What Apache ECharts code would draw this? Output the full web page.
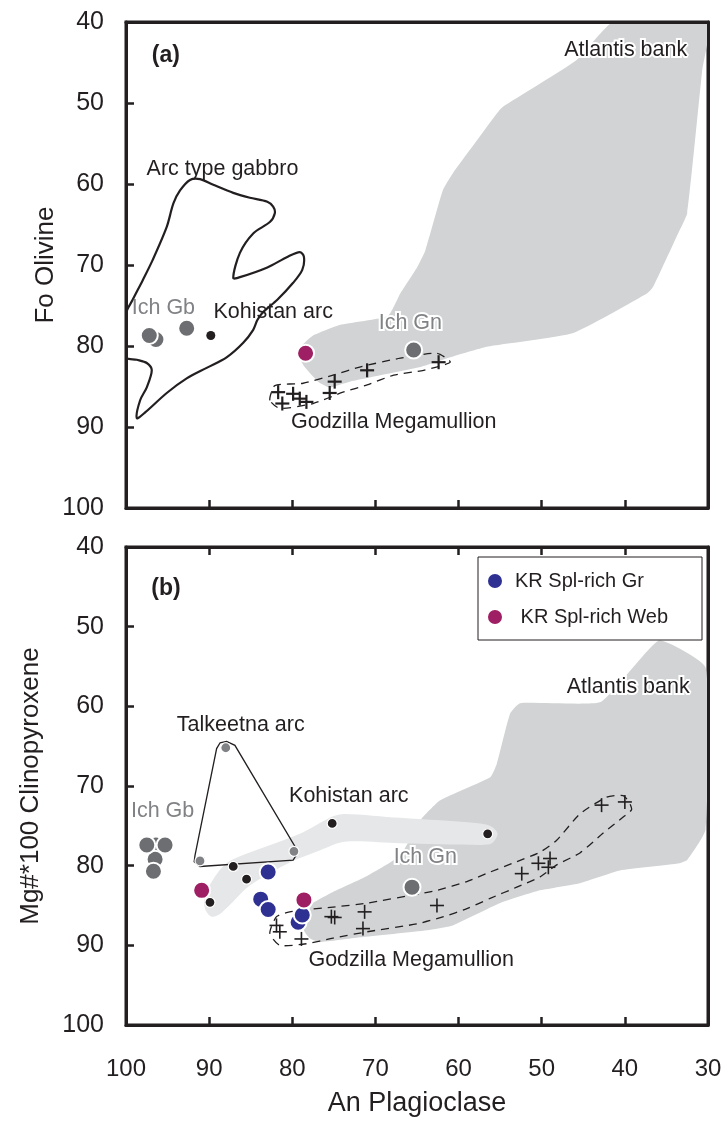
<!DOCTYPE html>
<html>
<head>
<meta charset="utf-8">
<script src="https://cdn.jsdelivr.net/npm/echarts@6/dist/echarts.min.js"></script>
<style>
  html, body { margin: 0; padding: 0; background: #fff; }
  #chart { width: 725px; height: 1121px; }
</style>
</head>
<body>
<div id="chart"></div>
<script>
// ---------- Panel (a): An Plagioclase vs Fo Olivine ----------
const atlantisA = [[41.4,40],[30.0,40],[30.7,46.0],[32.5,63.6],[33.6,66.1],[36.6,72.7],[37.3,73.5],[46.2,78.4],[56.6,80.1],[61.0,81.4],[64.6,82.6],[73.1,84.4],[75.5,85.1],[76.9,84.4],[78.5,82.6],[79.3,81.1],[78.8,79.9],[77.5,78.7],[74.3,77.4],[68.5,76.3],[67.0,73.5],[65.0,70.3],[64.0,68.2],[61.9,60.8],[60.7,58.7],[55.4,51.3],[54.7,50.5],[45.8,44.7]];
const arcGabbroA = [[92.3,59.5],[91.1,59.4],[89.5,60.1],[87.1,61.1],[85.1,61.7],[83.0,62.2],[82.3,62.8],[82.1,63.6],[82.7,64.7],[84.7,66.1],[86.3,68.5],[87.1,71.6],[86.3,71.5],[83.0,70.3],[80.6,69.0],[79.1,68.4],[78.6,69.0],[78.8,70.6],[79.9,72.2],[81.8,74.3],[83.5,75.8],[84.2,76.8],[84.7,78.0],[85.9,79.6],[87.9,81.4],[90.3,82.7],[92.7,84.0],[95.1,85.8],[97.7,88.2],[98.7,88.9],[98.3,86.7],[97.5,85.1],[96.9,83.0],[97.5,82.1],[98.7,81.7],[100,81.4],[100,76.0],[99.2,74.3],[98.0,71.9],[96.8,69.4],[95.1,65.3],[94.3,62.4],[93.5,60.8]];
const godzillaEnvA = [[82.7,86.7],[82.1,84.9],[78.7,84.6],[75.1,83.6],[71.9,82.6],[67.0,81.5],[62.6,80.9],[61.0,82.0],[64.2,83.0],[67.8,83.6],[71.0,84.8],[73.9,85.7],[77.5,87.1],[81.5,87.7]];
const godzillaA = [[81.7,85.7],[81.2,87.1],[79.9,85.9],[79.1,86.5],[78.3,86.9],[75.5,85.8],[74.9,84.4],[71.0,83.0],[62.4,82.0]];
const ichA = [[96.4,79.2],[97.2,78.7],[92.7,77.8],[65.4,80.5]];
const kohistanA = [[89.8,78.7]];
const webA = [[78.4,80.9]];
const labelsA = [
  ['(a)', 95.2, 44.1],
  ['Atlantis bank', 39.9, 43.5],
  ['Arc type gabbro', 88.4, 58.1],
  ['Ich Gb', 95.5, 75.3],
  ['Kohistan arc', 82.3, 75.8],
  ['Ich Gn', 65.8, 77.2],
  ['Godzilla Megamullion', 67.8, 89.4]
];

// ---------- Panel (b): An Plagioclase vs Mg#*100 Clinopyroxene ----------
const atlantisB = [[35.8,51.7],[30.3,55.1],[30.3,75.5],[32.5,79.3],[33.4,79.7],[40.6,80.6],[45.4,82.2],[50.2,83.1],[55.0,84.7],[60.7,87.5],[63.8,88.1],[71.9,89.0],[76.7,89.6],[77.9,89.1],[78.6,88.1],[78.3,86.2],[77.5,84.7],[75.1,83.3],[71.0,81.3],[67.0,78.7],[64.6,74.3],[62.2,71.8],[56.2,68.9],[55.4,67.2],[53.8,60.9],[52.6,59.6],[43.0,59.5],[39.0,55.1]];
const kohistanBandB = [[90.5,83.7],[88.9,80.8],[87.3,79.3],[79.1,76.0],[75.1,73.8],[73.7,73.5],[67.0,74.0],[57.4,74.7],[56.0,75.1],[55.3,76.0],[56.0,77.2],[57.4,77.4],[67.0,77.2],[73.7,77.0],[76.7,78.1],[80.3,79.6],[85.1,82.5],[88.5,85.9],[89.7,86.4],[90.5,85.4]];
const talkeetnaOutlineB = [[88.7,64.6],[87.9,64.4],[86.9,64.9],[79.5,77.9],[79.4,78.5],[79.9,79.3],[91.1,80.1],[91.8,79.5],[91.7,78.7],[89.1,65.3]];
const godzillaEnvB = [[79.1,85.6],[75.1,85.2],[71.0,84.7],[64.6,83.5],[62.6,83.1],[59.0,82.0],[56.2,80.8],[53.0,79.5],[50.2,78.3],[48.2,76.8],[45.4,73.5],[42.2,71.4],[40.2,71.2],[39.4,72.2],[39.2,73.0],[40.2,73.9],[42.6,75.9],[45.4,78.4],[48.2,79.9],[50.2,81.4],[53.0,82.7],[56.2,84.1],[59.0,85.4],[61.8,86.4],[65.0,87.3],[71.0,88.3],[75.1,89.1],[78.3,89.8],[81.5,90.0],[82.7,88.5],[81.9,86.4],[80.3,85.8]];
const godzillaB = [[81.5,88.3],[81.9,87.5],[78.9,89.2],[75.3,86.4],[74.9,86.5],[71.3,85.8],[71.5,87.9],[62.6,85.0],[52.4,81.0],[50.4,79.7],[49.0,79.1],[49.2,80.2],[42.8,72.4],[40.0,72.0]];
const ichB = [[96.4,77.4],[96.5,79.2],[97.5,77.4],[95.3,77.4],[96.7,80.7],[65.6,82.7]];
const talkeetnaB = [[88.0,65.2],[91.1,79.4],[79.8,78.2]];
const kohistanB = [[87.1,80.1],[85.5,81.7],[89.9,84.6],[75.2,74.7],[56.5,76.0]];
const grB = [[82.9,80.8],[83.8,84.2],[82.9,85.5],[79.3,87.1],[78.8,86.2]];
const webB = [[90.9,83.1],[78.6,84.3]];
const labelsB = [
  ['(b)', 95.2, 45.2],
  ['Atlantis bank', 39.6, 57.6],
  ['Talkeetna arc', 86.2, 62.4],
  ['Kohistan arc', 73.2, 71.3],
  ['Ich Gb', 95.6, 73.2],
  ['Ich Gn', 64.0, 78.9],
  ['Godzilla Megamullion', 65.7, 91.8]
];

const xTicks = [100, 90, 80, 70, 60, 50, 40, 30];
const yTicks = [40, 50, 60, 70, 80, 90, 100];

// ---------- styling ----------
const INK = '#231f20';
const GREY_TXT = '#808285';
const FONT = '"Liberation Sans", Arial, sans-serif';
const HALO = new Set(['Atlantis bank', 'Ich Gn']);
const GREY = new Set(['Ich Gb', 'Ich Gn']);
const TAGS = new Set(['(a)', '(b)']);

function polygonSeries(pts, xi, yi, style, smooth, z) {
  return {
    type: 'custom', xAxisIndex: xi, yAxisIndex: yi, z: z, silent: true, clip: true,
    data: pts,
    renderItem: function (params, api) {
      if (params.dataIndex !== 0) return null;
      const points = pts.map(function (p) { return api.coord(p); });
      return { type: 'polygon', shape: { points: points, smooth: smooth }, style: style };
    }
  };
}

function crossSeries(pts, xi, yi, half, lw) {
  return {
    type: 'custom', xAxisIndex: xi, yAxisIndex: yi, z: 4, silent: true, clip: true,
    data: pts,
    renderItem: function (params, api) {
      const c = api.coord([api.value(0), api.value(1)]);
      const st = { stroke: INK, lineWidth: lw };
      return { type: 'group', children: [
        { type: 'line', shape: { x1: c[0] - half, y1: c[1], x2: c[0] + half, y2: c[1] }, style: st },
        { type: 'line', shape: { x1: c[0], y1: c[1] - half, x2: c[0], y2: c[1] + half }, style: st }
      ] };
    }
  };
}

function dotSeries(name, pts, xi, yi, color, size, bw, z) {
  return {
    type: 'scatter', name: name, xAxisIndex: xi, yAxisIndex: yi, z: z, silent: true,
    data: pts, symbol: 'circle', symbolSize: size,
    itemStyle: { color: color, borderColor: '#fff', borderWidth: bw, opacity: 1 }
  };
}

function labelSeries(labels, xi, yi) {
  return {
    type: 'custom', xAxisIndex: xi, yAxisIndex: yi, z: 8, silent: true, clip: false,
    data: labels.map(function (l) { return [l[1], l[2]]; }),
    renderItem: function (params, api) {
      const txt = labels[params.dataIndex][0];
      const c = api.coord([api.value(0), api.value(1)]);
      const font = TAGS.has(txt) ? 'bold 23px ' + FONT : '21.5px ' + FONT;
      const base = {
        text: txt, x: c[0], y: c[1], font: font,
        align: 'center', verticalAlign: 'middle',
        textAlign: 'center', textVerticalAlign: 'middle',
        fill: GREY.has(txt) ? GREY_TXT : INK
      };
      const children = [];
      if (HALO.has(txt)) {
        children.push({ type: 'text', style: Object.assign({}, base, { fill: '#fff', stroke: '#fff', lineWidth: 4, lineJoin: 'round' }) });
      }
      children.push({ type: 'text', style: base });
      return { type: 'group', children: children };
    }
  };
}

function xAxisPair(gridIndex, withLabels, topTicks) {
  const common = {
    gridIndex: gridIndex, type: 'value', min: 30, max: 100, interval: 10, inverse: true, z: 10,
    splitLine: { show: false },
    axisLine: { show: true, onZero: false, lineStyle: { color: INK, width: 3 } }
  };
  return [
    Object.assign({}, common, {
      position: 'bottom',
      axisTick: { show: true, inside: true, length: 8, lineStyle: { color: INK, width: 2.5 } },
      axisLabel: {
        show: withLabels, fontSize: 24, color: INK, margin: 32, fontFamily: FONT,
        formatter: function (v) { return xTicks.indexOf(v) >= 0 ? String(v) : ''; }
      },
      name: withLabels ? 'An Plagioclase' : '', nameLocation: 'middle', nameGap: 65,
      nameMoveOverlap: false,
      nameTextStyle: { fontSize: 27, color: INK, fontFamily: FONT }
    }),
    Object.assign({}, common, {
      position: 'top',
      axisTick: { show: topTicks, inside: true, length: 8, lineStyle: { color: INK, width: 2.5 } },
      axisLabel: { show: false }
    })
  ];
}

function yAxisPair(gridIndex, title, gap) {
  const common = {
    gridIndex: gridIndex, type: 'value', min: 40, max: 100, interval: 10, inverse: true, z: 10,
    splitLine: { show: false },
    axisLine: { show: true, onZero: false, lineStyle: { color: INK, width: 3 } }
  };
  return [
    Object.assign({}, common, {
      position: 'left',
      axisTick: { show: true, inside: true, length: 8, lineStyle: { color: INK, width: 2.5 } },
      axisLabel: {
        fontSize: 25, color: INK, margin: 22, fontFamily: FONT,
        formatter: function (v) { return yTicks.indexOf(v) >= 0 ? String(v) : ''; }
      },
      name: title, nameLocation: 'middle', nameRotate: 90, nameGap: gap,
      nameMoveOverlap: false,
      nameTextStyle: { fontSize: 26, color: INK, fontFamily: FONT }
    }),
    Object.assign({}, common, {
      position: 'right',
      axisTick: { show: false },
      axisLabel: { show: false }
    })
  ];
}

const greyFill = { fill: '#d1d3d4', stroke: null };
const bandFill = { fill: '#e6e7e8', stroke: null };
const dashed = { fill: null, stroke: INK, lineWidth: 1.3, lineDash: [8, 6] };

const option = {
  animation: false,
  backgroundColor: '#fff',
  grid: [
    { left: 126, top: 22, width: 582, height: 486, show: true, borderColor: INK, borderWidth: 3, backgroundColor: 'transparent' },
    { left: 126, top: 547, width: 582, height: 478, show: true, borderColor: INK, borderWidth: 3, backgroundColor: 'transparent' }
  ],
  xAxis: xAxisPair(0, false, false).concat(xAxisPair(1, true, true)),
  yAxis: yAxisPair(0, 'Fo Olivine', 67).concat(yAxisPair(1, 'Mg#*100 Clinopyroxene', 82)),
  legend: {
    data: [{ name: 'KR Spl-rich Gr', icon: 'circle' }, { name: 'KR Spl-rich Web', icon: 'circle' }],
    orient: 'vertical', left: 478, top: 557,
    borderColor: INK, borderWidth: 1, backgroundColor: '#fff',
    padding: [13, 34, 12, 8], itemGap: 14, itemWidth: 30, itemHeight: 16,
    selectedMode: false,
    formatter: function (name) { return name === 'KR Spl-rich Web' ? ' ' + name : name; },
    textStyle: { fontSize: 20, color: INK, fontFamily: FONT, lineHeight: 22 }
  },
  series: [
    // panel (a)
    polygonSeries(atlantisA, 0, 0, greyFill, 0.15, 1),
    polygonSeries(arcGabbroA, 0, 0, { fill: null, stroke: INK, lineWidth: 2.2 }, 0.3, 3),
    polygonSeries(godzillaEnvA, 0, 0, dashed, 0.2, 3),
    crossSeries(godzillaA, 0, 0, 7, 2.2),
    dotSeries('Ich', ichA, 0, 0, '#6d6e71', 17, 2, 5),
    dotSeries('Kohistan arc', kohistanA, 0, 0, INK, 9, 0, 5),
    dotSeries('KR Spl-rich Web', webA, 0, 0, '#9e1f63', 17, 2, 6),
    labelSeries(labelsA, 0, 0),
    // panel (b)
    polygonSeries(atlantisB, 2, 2, greyFill, 0.15, 1),
    polygonSeries(kohistanBandB, 2, 2, bandFill, 0.3, 2),
    polygonSeries(talkeetnaOutlineB, 2, 2, { fill: null, stroke: INK, lineWidth: 1.3 }, 0, 3),
    polygonSeries(godzillaEnvB, 2, 2, dashed, 0.2, 3),
    crossSeries(godzillaB, 2, 2, 7, 1.6),
    dotSeries('Ich', ichB, 2, 2, '#6d6e71', 17, 2, 5),
    dotSeries('Talkeetna arc', talkeetnaB, 2, 2, '#808285', 10, 1.2, 5),
    dotSeries('Kohistan arc', kohistanB, 2, 2, INK, 10, 1.2, 5),
    dotSeries('KR Spl-rich Gr', grB, 2, 2, '#2e3192', 17, 2, 6),
    dotSeries('KR Spl-rich Web', webB, 2, 2, '#9e1f63', 17, 2, 6),
    labelSeries(labelsB, 2, 2)
  ]
};

const chart = echarts.init(document.getElementById('chart'), null, { renderer: 'canvas' });
chart.setOption(option);
</script>
</body>
</html>
